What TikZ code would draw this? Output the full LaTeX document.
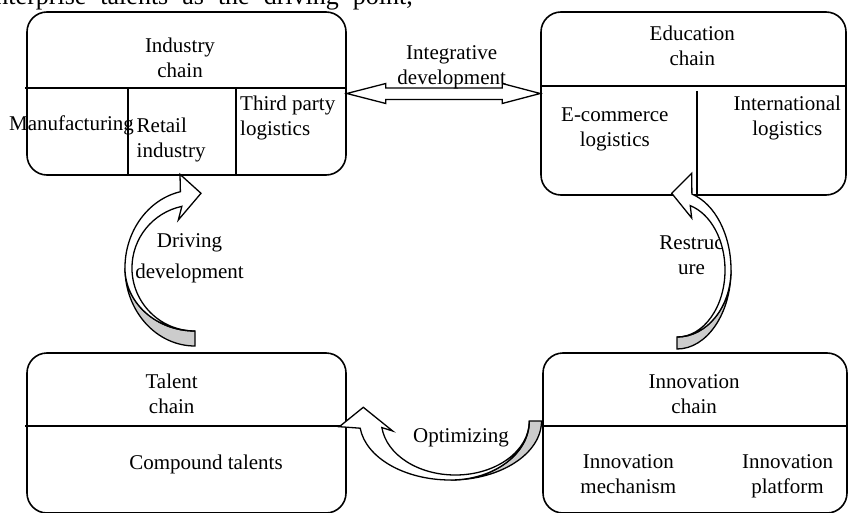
\documentclass[tikz,border=0pt]{standalone}
\usepackage{fontspec}
\setmainfont{Liberation Serif}
\usetikzlibrary{calc}
\tikzset{
  chainbox/.style={draw, line width=1.6pt, rounded corners=20pt, inner sep=0pt},
  lbl/.style={font=\fontsize{21}{25}\selectfont, align=center, inner sep=0pt},
  frontface/.style={draw, line width=1.3pt, fill=white},
  backface/.style={draw, line width=1.3pt, fill=black!20}
}

\begin{document}
\begin{tikzpicture}[x=1pt, y=-1pt]
  \useasboundingbox (0,0) rectangle (848,513);
  \clip (0,0) rectangle (848,513);

  % text line cut at the top
  \node[anchor=base east, inner sep=0pt, font=\fontsize{26}{30}\selectfont] (intro) at (413,5)
    {\spaceskip=14pt enterprise talents as the driving point,};

  % Industry chain
  \node[chainbox, minimum width=319pt, minimum height=163pt] (ind) at (186.5,93.5) {};
  \draw[line width=1.6pt] (25,88) -- (346,88);
  \draw[line width=1.6pt] (128,88) -- (128,175);
  \draw[line width=1.6pt] (236,88) -- (236,175);
  \node[lbl] (indtitle) at (180,57.5) {Industry\\chain};
  \node[lbl] (manu) at (71.5,125) {Manufacturing};
  \node[lbl, align=left, anchor=west] (retail) at (136.5,140) {Retail\\industry};
  \node[lbl, align=left, anchor=west] (third) at (240,117.7) {Third party\\logistics};

  % Education chain
  \node[chainbox, minimum width=305pt, minimum height=183pt] (edu) at (693.5,103.5) {};
  \draw[line width=1.6pt] (541,86) -- (846,86);
  \draw[line width=1.6pt] (697,91) -- (697,195);
  \node[lbl] (edutitle) at (692.3,46.2) {Education\\chain};
  \node[lbl] (ecom) at (614.8,129.3) {E-commerce\\logistics};
  \node[lbl] (intl) at (787.3,117.7) {International\\logistics};

  % Talent chain
  \node[chainbox, minimum width=319pt, minimum height=160pt] (tal) at (186.5,433) {};
  \draw[line width=1.6pt] (25,426) -- (346,426);
  \node[lbl] (taltitle) at (171.7,393.9) {Talent\\chain};
  \node[lbl] (compound) at (206,464.5) {Compound talents};

  % Innovation chain
  \node[chainbox, minimum width=304pt, minimum height=160pt] (inn) at (695,433) {};
  \draw[line width=1.6pt] (543,426) -- (848,426);
  \node[lbl] (inntitle) at (694.2,393.9) {Innovation\\chain};
  \node[lbl] (mech) at (628.3,474.2) {Innovation\\mechanism};
  \node[lbl] (plat) at (787.5,476.5) {Innovation\\platform};

  % labels of the curved arrows
  \node[lbl] (drive) at (189.5,258) {Driving\\[6pt]development};
  \node[lbl] (restr) at (691.5,255) {Restruc\\ure};
  \node[lbl] (optim) at (461,437.8) {Optimizing};

  % Integrative development
  \draw[frontface] (ind.east) -- ++(39,-10) -- ++(0,4.5)
    -- ($(edu.west |- ind.east)+(-38,-5.5)$) -- ++(0,-4.5)
    -- (edu.west |- ind.east) -- ++(-38,10) -- ++(0,-4)
    -- ($(ind.east)+(39,6)$) -- ++(0,4) -- cycle;
  \node[lbl] (integ) at (451.7,66.8) {Integrative\\development};

  % Driving development: talent -> industry
  \draw[backface] (125,268) arc[start angle=180, end angle=90, x radius=70, y radius=78]
    -- (195,331) arc[start angle=90, end angle=180, x radius=70, y radius=63] -- cycle;
  \draw[frontface] (180.4,191.7) arc[start angle=258, end angle=180, x radius=70, y radius=78]
    arc[start angle=180, end angle=90, x radius=70, y radius=63]
    arc[start angle=90, end angle=258, x radius=63, y radius=63]
    -- (178.3,220) -- (201,193.3) -- (180,174.3) -- cycle;

  % Restructure: innovation -> education
  \draw[backface] (731,270) arc[start angle=0, end angle=90, x radius=54, y radius=79]
    -- (677,337) arc[start angle=90, end angle=0, x radius=54, y radius=67] -- cycle;
  \draw[frontface] (691.9,194.1) arc[start angle=286, end angle=360, x radius=54, y radius=79]
    arc[start angle=0, end angle=90, x radius=54, y radius=67]
    arc[start angle=90, end angle=-74, x radius=48, y radius=67]
    -- (691.7,218) -- (671.7,193.3) -- (691.7,173.3) -- cycle;

  % Optimizing: innovation -> talent
  \draw[backface] (450.5,480) arc[start angle=90, end angle=0, x radius=91, y radius=59]
    -- (529.3,421) arc[start angle=0, end angle=90, x radius=78.8, y radius=59] -- cycle;
  \draw[frontface] (360.2,428.2) arc[start angle=173, end angle=90, x radius=91, y radius=59]
    arc[start angle=90, end angle=0, x radius=78.8, y radius=59]
    arc[start angle=0, end angle=173, x radius=74, y radius=54]
    -- (392.7,431) -- (363.3,407.3) -- (339.3,426.7) -- cycle;
\end{tikzpicture}
\end{document}
